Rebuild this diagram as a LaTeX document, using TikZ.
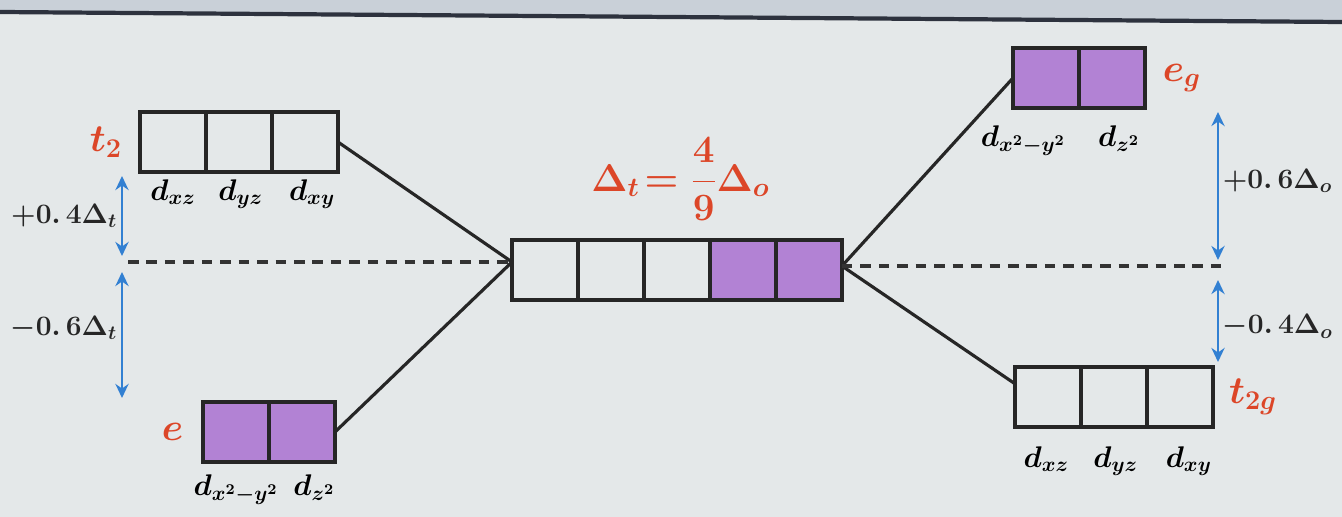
\RequirePackage{fix-cm}
\documentclass[tikz,border=0pt]{standalone}
\usepackage{amsmath,amssymb}
\usepackage{tikz}
\usetikzlibrary{arrows.meta, positioning, calc}
\usepackage{xcolor}
\definecolor{slidebg}{RGB}{228,232,233}
\definecolor{slidetop}{RGB}{201,208,216}
\definecolor{slideedge}{RGB}{45,50,62}
\definecolor{orbfill}{RGB}{178,130,212}
\definecolor{lvlred}{RGB}{220,70,40}
\definecolor{gapblue}{RGB}{50,128,210}
\tikzset{
  cell/.style={draw=black!85, line width=2pt, minimum width=1.32cm, minimum height=1.2cm, inner sep=0pt, outer sep=0pt},
  eorb/.style={cell, fill=orbfill},
  lvlname/.style={text=lvlred, font=\fontsize{22}{26}\selectfont\boldmath, inner sep=1pt},
  orbname/.style={font=\fontsize{17}{20}\selectfont\boldmath, inner sep=1pt},
  gapname/.style={text=black!85, font=\fontsize{16}{19}\selectfont\boldmath, inner sep=2pt},
  link/.style={line width=1.8pt, black!85},
  baryline/.style={line width=2.2pt, black!80, dash pattern=on 6pt off 4.5pt},
  gaparrow/.style={<->, line width=1.5pt, gapblue}
}

\begin{document}
\begin{tikzpicture}[x=0.02cm, y=-0.02cm, >={Stealth[length=8pt, width=7.5pt]}]
    \useasboundingbox (0,0) rectangle (1342,517);
    \fill[slidebg] (0,0) rectangle (1342,517);
    % Mép trên của trang chiếu
    \fill[slidetop] (0,0) -- (1342,0) -- (1342,22) -- (0,12) -- cycle;
    \draw[line width=2.4pt, slideedge] (0,12) -- (1342,22);

    % Trường tứ diện: t2 ở trên, e ở dưới
    \node[cell] (t2a) at (173,142) {};
    \node[cell, right=0pt of t2a] (t2b) {};
    \node[cell, right=0pt of t2b] (t2c) {};
    \node[lvlname, left=9pt of t2a] (t2lbl) {$t_2$};
    \node[orbname, below=3pt of t2a] (t2dxz) {$d_{xz}$};
    \node[orbname, below=3pt of t2b, xshift=1pt] (t2dyz) {$d_{yz}$};
    \node[orbname, below=3pt of t2c, xshift=4pt] (t2dxy) {$d_{xy}$};

    \node[eorb] (ea) at (236,432) {};
    \node[eorb, right=0pt of ea] (eb) {};
    \node[lvlname, left=10pt of ea] (elbl) {$e$};
    \node[orbname, below=6pt of ea] (edx) {$d_{x^2-y^2}$};
    \node[orbname, below=6pt of eb, xshift=7pt] (edz) {$d_{z^2}$};

    % Khối ở giữa: năm orbital d chưa tách
    \node[cell] (c1) at (545,270) {};
    \node[cell, right=0pt of c1] (c2) {};
    \node[cell, right=0pt of c2] (c3) {};
    \node[eorb, right=0pt of c3] (c4) {};
    \node[eorb, right=0pt of c4] (c5) {};
    \node[lvlname, font=\fontsize{22}{26}\selectfont\boldmath, above=10pt of c3, xshift=2pt] (ratio)
        {$\Delta_t\!=\dfrac{4}{9}\Delta_o$};

    % Trường bát diện: eg ở trên, t2g ở dưới
    \node[eorb] (ega) at (1046,78) {};
    \node[eorb, right=0pt of ega] (egb) {};
    \node[lvlname, right=9pt of egb] (eglbl) {$e_g$};
    \node[orbname, below=9pt of ega, xshift=-13pt] (egdx) {$d_{x^2-y^2}$};
    \node[orbname, below=9pt of egb, xshift=4pt] (egdz) {$d_{z^2}$};

    \node[cell] (t2ga) at (1048,397) {};
    \node[cell, right=0pt of t2ga] (t2gb) {};
    \node[cell, right=0pt of t2gb] (t2gc) {};
    \node[lvlname, right=8pt of t2gc] (t2glbl) {$t_{2g}$};
    \node[orbname, below=10pt of t2ga, xshift=-1pt] (t2gdxz) {$d_{xz}$};
    \node[orbname, below=10pt of t2gb, xshift=1pt] (t2gdyz) {$d_{yz}$};
    \node[orbname, below=10pt of t2gc, xshift=5pt] (t2gdxy) {$d_{xy}$};

    % Đường nối và mức năng lượng trung bình
    \coordinate (ljoin) at ($(c1.west)+(0,-8)$);
    \coordinate (rjoin) at ($(c5.east)+(0,-4)$);
    \coordinate (lbary) at (128,262);
    \coordinate (rbary) at (1228,266);
    \draw[link] (t2c.east) -- (ljoin);
    \draw[link] (eb.east) -- (ljoin);
    \draw[link] (rjoin) -- (ega.west);
    \draw[link] (rjoin) -- ($(t2ga.north west)!0.28!(t2ga.south west)$);
    \draw[baryline] (lbary) -- (ljoin);
    \draw[baryline] (rjoin) -- (rbary);

    % Mũi tên khoảng tách
    \coordinate (lup) at (122,176);
    \coordinate (lmidup) at (122,256);
    \coordinate (lmiddn) at (122,272);
    \coordinate (ldn) at (122,398);
    \coordinate (rup) at (1218,112);
    \coordinate (rmidup) at (1218,260);
    \coordinate (rmiddn) at (1218,280);
    \coordinate (rdn) at (1218,362);
    \draw[gaparrow] (lup) -- node[gapname, left] (lgapup) {$+0.\,4\Delta_t$} (lmidup);
    \draw[gaparrow] (lmiddn) -- node[gapname, left, yshift=4pt] (lgapdn) {$-0.\,6\Delta_t$} (ldn);
    \draw[gaparrow] (rup) -- node[gapname, right, yshift=3pt] (rgapup) {$+0.\,6\Delta_o$} (rmidup);
    \draw[gaparrow] (rmiddn) -- node[gapname, right, yshift=-3pt] (rgapdn) {$-0.\,4\Delta_o$} (rdn);
\end{tikzpicture}
\end{document}
